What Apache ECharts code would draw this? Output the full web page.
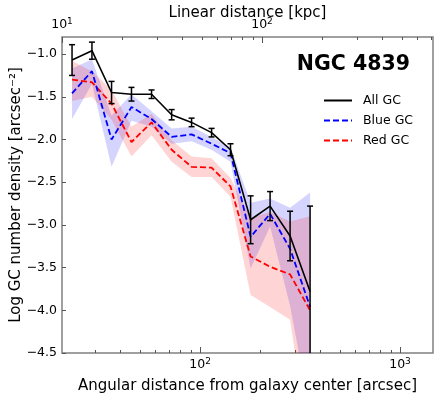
<!DOCTYPE html>
<html>
<head>
<meta charset="utf-8">
<script src="https://cdn.jsdelivr.net/npm/echarts@6/dist/echarts.min.js"></script>
<style>html,body{margin:0;padding:0;background:#fff}#main{width:440px;height:394px}</style>
</head>
<body>
<div id="main"></div>
<script>
// radial bins (arcsec) and log surface densities
var radius = [22.9, 28.8, 36.1, 45.4, 57.2, 72.1, 90.7, 114.2, 142, 179, 224, 282, 355];
var allGC  = [-1.07, -0.96, -1.45, -1.47, -1.47, -1.71, -1.80, -1.92, -2.12, -2.94, -2.78, -3.13, -3.78];
var allErr = [0.18, 0.10, 0.13, 0.08, 0.05, 0.06, 0.05, 0.05, 0.07, 0.28, 0.17, 0.29, 1.0];
var blueGC = [-1.46, -1.20, -2.00, -1.62, -1.76, -1.97, -1.94, -2.05, -2.16, -3.14, -2.87, -3.28, -3.96];
var blueHi = [-1.17, -1.06, -1.72, -1.47, -1.67, -1.87, -1.85, -1.97, -2.09, -2.74, -2.69, -2.80, -2.62];
var blueLo = [-1.76, -1.35, -2.32, -1.78, -1.85, -2.05, -2.02, -2.12, -2.26, -3.51, -3.02, -3.95, -5.2];
var redGC  = [-1.30, -1.33, -1.58, -2.03, -1.80, -2.12, -2.32, -2.33, -2.55, -3.37, -3.49, -3.58, -4.00];
var redHi  = [-1.08, -1.20, -1.42, -1.85, -1.70, -2.01, -2.20, -2.22, -2.45, -2.92, -2.85, -2.96, -2.90];
var redLo  = [-1.55, -1.50, -1.77, -2.20, -1.95, -2.26, -2.44, -2.44, -2.67, -3.82, -3.96, -4.11, -5.7];

var xMin = 20.4, xMax = 1462;      // arcsec
var kpcPerArcsec = 0.49;
var arcsecMinor = [30, 40, 50, 60, 70, 80, 90, 200, 300, 400, 500, 600, 700, 800, 900];
var arcsecMajor = [100, 1000];
var kpcMinor = [20, 30, 40, 50, 60, 70, 80, 90, 200, 300, 400, 500, 600, 700];
var kpcMajor = [10, 100];

var FONT = 'DejaVu Sans';
var lg = Math.log10;

function pts(arr) { return radius.map(function (r, i) { return [r, arr[i]]; }); }

var supRich = {
    b: { fontSize: 12.5, fontFamily: FONT, color: '#000', lineHeight: 15 },
    sup: { fontSize: 9, fontFamily: FONT, color: '#000', lineHeight: 9, verticalAlign: 'top' }
};
function powLabel(v) { return '{b|10}{sup|' + Math.round(v) + '}'; }

// shaded band between lo and hi, drawn as one polygon through the axes' coord()
function band(id, hi, lo, color) {
    return {
        type: 'custom', name: id, clip: true, silent: true, z: 1,
        encode: { x: 0, y: 1 },
        data: radius.map(function (r, i) { return [r, lo[i], hi[i]]; }),
        renderItem: function (params, api) {
            if (params.dataIndexInside !== 0) return null;
            var up = [], dn = [];
            for (var i = 0; i < params.dataInsideLength; i++) {
                up.push(api.coord([api.value(0, i), api.value(2, i)]));
                dn.push(api.coord([api.value(0, i), api.value(1, i)]));
            }
            return { type: 'polygon', shape: { points: up.concat(dn.reverse()) }, style: { fill: color } };
        }
    };
}

var myChart = echarts.init(document.getElementById('main'));

var option = {
    animation: false,
    title: {
        text: 'NGC 4839', right: 30, top: 54, padding: 0,
        textStyle: { fontSize: 20.5, fontWeight: 'bold', color: '#000', fontFamily: FONT }
    },
    legend: {
        data: ['All GC', 'Blue GC', 'Red GC'],
        orient: 'vertical', left: 323, top: 94, padding: 0,
        itemWidth: 28, itemHeight: 14, itemGap: 7,
        itemStyle: { opacity: 0 },
        textStyle: { fontSize: 12.5, color: '#000', fontFamily: FONT, padding: [0, 0, 0, 6] }
    },
    grid: {
        left: 62, right: 7, top: 37, bottom: 41,
        containLabel: false, outerBoundsMode: 'none',
        show: true, borderColor: '#808080', borderWidth: 1.5
    },
    xAxis: [{
        type: 'log', logBase: 10, min: xMin, max: xMax,
        axisLine: { show: false }, axisTick: { show: false }, axisLabel: { show: false },
        splitLine: { show: false },
        name: 'Angular distance from galaxy center [arcsec]', nameLocation: 'middle', nameGap: 26,
        nameMoveOverlap: false,
        nameTextStyle: { fontSize: 15, color: '#000', fontFamily: FONT }
    }, {
        type: 'value', position: 'bottom', min: lg(xMin), max: lg(xMax),
        axisLine: { show: false }, splitLine: { show: false }, axisLabel: { show: false },
        axisTick: { inside: true, length: 3, customValues: arcsecMinor.map(lg), lineStyle: { color: '#555' } }
    }, {
        type: 'value', position: 'bottom', min: lg(xMin), max: lg(xMax),
        axisLine: { show: false }, splitLine: { show: false },
        axisTick: { inside: true, length: 6, customValues: arcsecMajor.map(lg), lineStyle: { color: '#555' } },
        axisLabel: {
            customValues: arcsecMajor.map(lg), formatter: powLabel, rich: supRich,
            fontSize: 12.5, color: '#000', fontFamily: FONT, margin: 4
        }
    }, {
        type: 'value', position: 'top', min: lg(xMin * kpcPerArcsec), max: lg(xMax * kpcPerArcsec),
        axisLine: { show: false }, splitLine: { show: false }, axisLabel: { show: false },
        axisTick: { inside: true, length: 3, customValues: kpcMinor.map(lg), lineStyle: { color: '#555' } }
    }, {
        type: 'value', position: 'top', min: lg(xMin * kpcPerArcsec), max: lg(xMax * kpcPerArcsec),
        axisLine: { show: false }, splitLine: { show: false },
        axisTick: { inside: true, length: 6, customValues: kpcMajor.map(lg), lineStyle: { color: '#555' } },
        axisLabel: {
            customValues: kpcMajor.map(lg), formatter: powLabel, rich: supRich,
            fontSize: 12.5, color: '#000', fontFamily: FONT, margin: 5,
            align: 'center', showMinLabel: true
        },
        name: 'Linear distance [kpc]', nameLocation: 'middle', nameGap: 16,
        nameMoveOverlap: false,
        nameTextStyle: { fontSize: 15, color: '#000', fontFamily: FONT }
    }],
    yAxis: [{
        type: 'value', min: -4.5, max: -0.8, interval: 0.5,
        axisLine: { show: false }, splitLine: { show: false },
        axisTick: { inside: true, length: 4, lineStyle: { color: '#555' } },
        axisLabel: {
            showMaxLabel: false, fontSize: 12.5, color: '#000', fontFamily: FONT, margin: 5,
            formatter: function (v) { return v.toFixed(1).replace('-', '\u2212'); }
        },
        name: 'Log GC number density [arcsec\u207B\u00B2]', nameLocation: 'middle', nameGap: 38,
        nameMoveOverlap: false,
        nameTextStyle: { fontSize: 15, color: '#000', fontFamily: FONT }
    }],
    series: [
        band('blueBand', blueHi, blueLo, 'rgba(0,0,255,0.17)'),
        band('redBand', redHi, redLo, 'rgba(255,0,0,0.17)'),
        {
            type: 'line', name: 'Red GC', data: pts(redGC), symbol: 'none', z: 3,
            lineStyle: { color: '#ff0000', width: 1.8, type: [6, 3] }, itemStyle: { color: '#ff0000' }
        }, {
            type: 'line', name: 'Blue GC', data: pts(blueGC), symbol: 'none', z: 3,
            lineStyle: { color: '#0000ff', width: 1.8, type: [6, 3] }, itemStyle: { color: '#0000ff' }
        }, {
            type: 'line', name: 'All GC', data: pts(allGC), symbol: 'none', z: 4,
            lineStyle: { color: '#000', width: 1.6 }, itemStyle: { color: '#000' }
        }, {
            type: 'custom', name: 'allErr', clip: true, z: 5,
            encode: { x: 0, y: 1 },
            data: radius.map(function (r, i) { return [r, allGC[i], allErr[i]]; }),
            renderItem: function (params, api) {
                var x = api.value(0), y = api.value(1), e = api.value(2);
                var top = api.coord([x, y + e]), bot = api.coord([x, y - e]);
                var w = 3, st = { stroke: '#000', lineWidth: 1.5 };
                return {
                    type: 'group', children: [
                        { type: 'line', shape: { x1: top[0], y1: top[1], x2: bot[0], y2: bot[1] }, style: st },
                        { type: 'line', shape: { x1: top[0] - w, y1: top[1], x2: top[0] + w, y2: top[1] }, style: st },
                        { type: 'line', shape: { x1: bot[0] - w, y1: bot[1], x2: bot[0] + w, y2: bot[1] }, style: st }
                    ]
                };
            }
        }
    ]
};

myChart.setOption(option);
</script>
</body>
</html>
